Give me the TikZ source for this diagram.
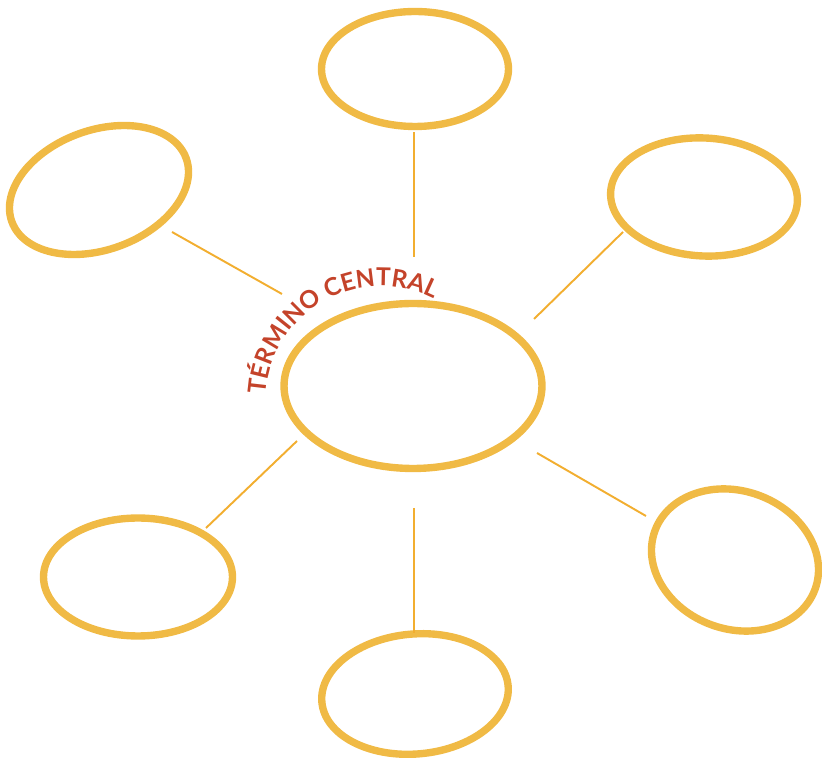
\documentclass[tikz,border=0pt]{standalone}
\usepackage{fontspec}
\setmainfont{Lato}
\usetikzlibrary{shapes.geometric, calc, decorations.text}
\definecolor{YO}{RGB}{240,186,69}
\definecolor{LO}{RGB}{242,174,48}
\definecolor{CR}{RGB}{196,67,42}

\begin{document}
\begin{tikzpicture}[x=0.02cm, y=0.02cm,
  bubble/.style 2 args={draw=YO, line width=4.2pt, ellipse, inner sep=0pt,
              minimum width=#1, minimum height=#2},
  link/.style={draw=LO, line width=1.1pt}
]
\useasboundingbox (0,0) rectangle (822,764);

% Hub
\node[bubble={5.16cm}{3.30cm}]             (c)  at (413,378) {};

% Satellites
\node[bubble={3.74cm}{2.30cm}]             (t)  at (415,695) {};
\node[bubble={3.71cm}{2.39cm}, rotate=20]  (tl) at (99,574)  {};
\node[bubble={3.74cm}{2.36cm}, rotate=-3]  (tr) at (704,567) {};
\node[bubble={3.78cm}{2.36cm}]             (bl) at (138,187) {};
\node[bubble={3.74cm}{2.40cm}, rotate=5]   (b)  at (415,70)  {};
\node[bubble={3.41cm}{2.76cm}, rotate=-20] (br) at (735,204) {};

\draw[link] ($(c)+(1,129)$)    -- ($(t)+(-1,-63)$);
\draw[link] ($(c)+(-131,92)$)  -- ($(tl)+(73,-42)$);
\draw[link] ($(c)+(121,67)$)   -- ($(tr)+(-81,-35)$);
\draw[link] ($(c)+(-116,-55)$) -- ($(bl)+(68,49)$);
\draw[link] ($(c)+(1,-122)$)   -- ($(b)+(-1,61)$);
\draw[link] ($(c)+(124,-67)$)  -- ($(br)+(-89,44)$);

% Label on the arc
\path[decorate, decoration={text along path,
  text={|\fontsize{14}{17}\selectfont\bfseries\color{CR}|TÉRMINO CENTRAL}}]
  ($(c)+(-32,-15)+(177:115)$) arc[start angle=177, end angle=50, radius=115];
\end{tikzpicture}
\end{document}
